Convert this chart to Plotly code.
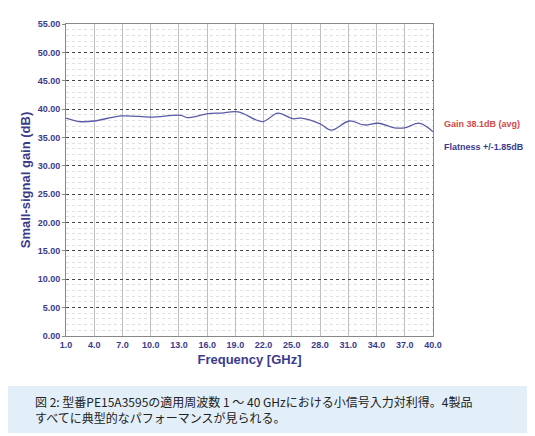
import plotly.graph_objects as go

freq = [1.0, 2.4, 4.0, 6.9, 10.0, 13.2, 13.9, 16.1, 17.5, 19.3, 21.9, 23.5, 25.1, 26.0, 28.0, 29.2, 31.1, 32.7, 34.2, 35.9, 37.0, 38.6, 40.0]
gain = [38.4, 37.8, 37.9, 38.8, 38.6, 38.9, 38.5, 39.2, 39.3, 39.5, 37.8, 39.3, 38.3, 38.4, 37.4, 36.3, 37.9, 37.2, 37.5, 36.7, 36.7, 37.5, 36.0]
xticks = [1.0 + 3 * i for i in range(14)]
yticks = [5 * i for i in range(12)]
navy = "#3b3b8c"

fig = go.Figure(go.Scatter(x=freq, y=gain, mode="lines", line=dict(color="#5a5aa8", width=1.3, shape="spline"), hoverinfo="skip"))
fig.update_layout(
    width=535, height=436, margin=dict(l=58, r=110, t=16, b=108),
    paper_bgcolor="white", plot_bgcolor="white", showlegend=False,
    font=dict(family="Liberation Sans, Arial", color=navy),
    xaxis=dict(range=[1, 40], tickvals=xticks, ticktext=[f"<b>{v:.1f}</b>" for v in xticks],
               showgrid=True, gridcolor="#c0c0c0", gridwidth=1, showline=True, linecolor="#888", mirror=True,
               tickfont=dict(size=9, color=navy), zeroline=False,
               title=dict(text="<b>Frequency [GHz]</b>", font=dict(size=13, color=navy), standoff=6)),
    yaxis=dict(range=[0, 55], tickvals=yticks, ticktext=[f"<b>{v:.2f}</b>" for v in yticks],
               showgrid=True, gridcolor="#444", griddash="dot", gridwidth=1, showline=True, linecolor="#888", mirror=True,
               minor=dict(dtick=1, showgrid=True, gridcolor="#e0e0e0", gridwidth=1),
               tickfont=dict(size=9, color=navy), zeroline=False, ticks="outside", ticklen=3, tickcolor="#888",
               title=dict(text="<b>Small-signal gain (dB)</b>", font=dict(size=13, color=navy), standoff=4)),
    shapes=[dict(type="rect", xref="paper", yref="paper", x0=-58/367, x1=(535-58-3)/367, y0=-(425-328)/312, y1=-(378-328)/312,
                 fillcolor="#e2eff9", line=dict(width=0), layer="below")],
    annotations=[
        dict(text="<b>Gain 38.1dB (avg)</b>", xref="paper", yref="y", x=1.025, y=37.3, xanchor="left", showarrow=False,
             font=dict(size=9, color="#d04a4a")),
        dict(text="<b>Flatness +/-1.85dB</b>", xref="paper", yref="y", x=1.025, y=33.3, xanchor="left", showarrow=False,
             font=dict(size=9, color=navy)),
        dict(text="図 2: 型番PE15A3595の適用周波数 1 ～ 40 GHzにおける小信号入力対利得。4製品<br>すべてに典型的なパフォーマンスが見られる。",
             xref="paper", yref="paper", x=-33/367, y=-(401-328)/312, xanchor="left", yanchor="middle", align="left", showarrow=False,
             font=dict(size=12, color="#222", family="Noto Sans CJK JP")),
    ],
)
fig.write_html("out.html")
